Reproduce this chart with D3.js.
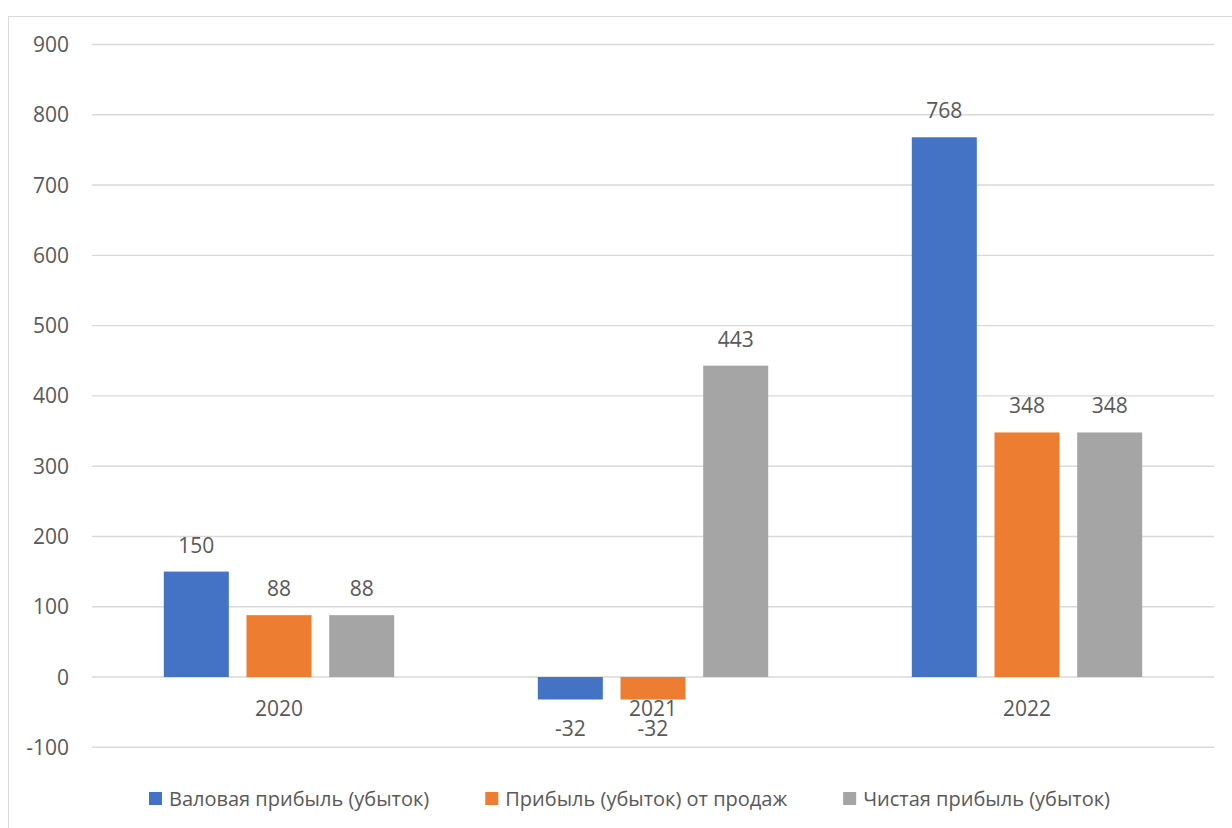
<!DOCTYPE html>
<html>
<head>
<meta charset="utf-8">
<script src="https://cdn.jsdelivr.net/npm/d3@7"></script>
<style>
  html, body { margin: 0; padding: 0; background: #fff; }
  svg { display: block; }
  text { font-family: "Open Sans", "Noto Sans", sans-serif; fill: #595959; }
</style>
</head>
<body>
<svg id="chart" width="1232" height="828"></svg>
<script>
// Years on the category axis
const years = ["2020", "2021", "2022"];
// Series names (legend order)
const seriesNames = [
  "Валовая прибыль (убыток)",
  "Прибыль (убыток) от продаж",
  "Чистая прибыль (убыток)"
];
// Values per series, one per year
const grossProfit = [150, -32, 768];
const salesProfit = [88, -32, 348];
const netProfit = [88, 443, 348];
// Y axis tick values
const yTicks = [-100, 0, 100, 200, 300, 400, 500, 600, 700, 800, 900];

const seriesValues = [grossProfit, salesProfit, netProfit];
const colors = ["#4472C4", "#ED7D31", "#A5A5A5"];

const svg = d3.select("#chart");
const W = 1232, H = 828;

// outer chart frame
svg.append("rect")
  .attr("x", 8.5).attr("y", 16.5)
  .attr("width", W + 10).attr("height", H + 10)
  .attr("fill", "none").attr("stroke", "#d9d9d9").attr("stroke-width", 1);

const plotLeft = 92, plotRight = 1214;
const y = d3.scaleLinear().domain([-100, 900]).range([747.3, 44.5]);

const x0 = d3.scaleBand().domain(years).range([plotLeft, plotRight])
  .paddingInner(0.384).paddingOuter(0.192);
const x1 = d3.scaleBand().domain(d3.range(seriesNames.length))
  .range([0, x0.bandwidth()]).paddingInner(0.214).paddingOuter(0);

// gridlines
svg.append("g").selectAll("line").data(yTicks).join("line")
  .attr("x1", plotLeft).attr("x2", plotRight)
  .attr("y1", d => y(d)).attr("y2", d => y(d))
  .attr("stroke", "#d9d9d9").attr("stroke-width", 1.4);

// y tick labels
svg.append("g").selectAll("text").data(yTicks).join("text")
  .attr("x", 69).attr("y", d => y(d))
  .attr("dy", "0.36em")
  .attr("text-anchor", "end")
  .style("font-size", "21px")
  .text(d => d);

// bars
const groups = svg.append("g").selectAll("g").data(years).join("g")
  .attr("transform", d => `translate(${x0(d)},0)`);

groups.each(function(year, yi) {
  const g = d3.select(this);
  seriesValues.forEach((vals, si) => {
    const v = vals[yi];
    g.append("rect")
      .attr("x", x1(si))
      .attr("width", x1.bandwidth())
      .attr("y", y(Math.max(0, v)))
      .attr("height", Math.abs(y(v) - y(0)))
      .attr("fill", colors[si]);
  });
});

// category labels
svg.append("g").selectAll("text").data(years).join("text")
  .attr("x", d => x0(d) + x0.bandwidth() / 2)
  .attr("y", 716)
  .attr("text-anchor", "middle")
  .style("font-size", "21px")
  .text(d => d);

// value labels
groups.each(function(year, yi) {
  const g = d3.select(this);
  seriesValues.forEach((vals, si) => {
    const v = vals[yi];
    g.append("text")
      .attr("x", x1(si) + x1.bandwidth() / 2)
      .attr("y", v >= 0 ? y(v) - 19 : y(v) + 36)
      .attr("text-anchor", "middle")
      .style("font-size", "21px")
      .text(v);
  });
});

// legend
const legend = svg.append("g");
const items = legend.selectAll("g").data(seriesNames).join("g");
items.append("rect")
  .attr("width", 13).attr("height", 13)
  .attr("y", 792)
  .attr("fill", (d, i) => colors[i]);
items.append("text")
  .attr("x", 20).attr("y", 806)
  .style("font-size", "20px")
  .text(d => d);
const widths = [];
items.each(function() {
  const w = d3.select(this).select("text").node().getComputedTextLength() + 20;
  widths.push(w);
});
const gap = 56;
const total = d3.sum(widths) + gap * (widths.length - 1);
let cursor = 629.5 - total / 2;
items.attr("transform", (d, i) => {
  const tx = cursor;
  cursor += widths[i] + gap;
  return `translate(${tx},0)`;
});
</script>
</body>
</html>
